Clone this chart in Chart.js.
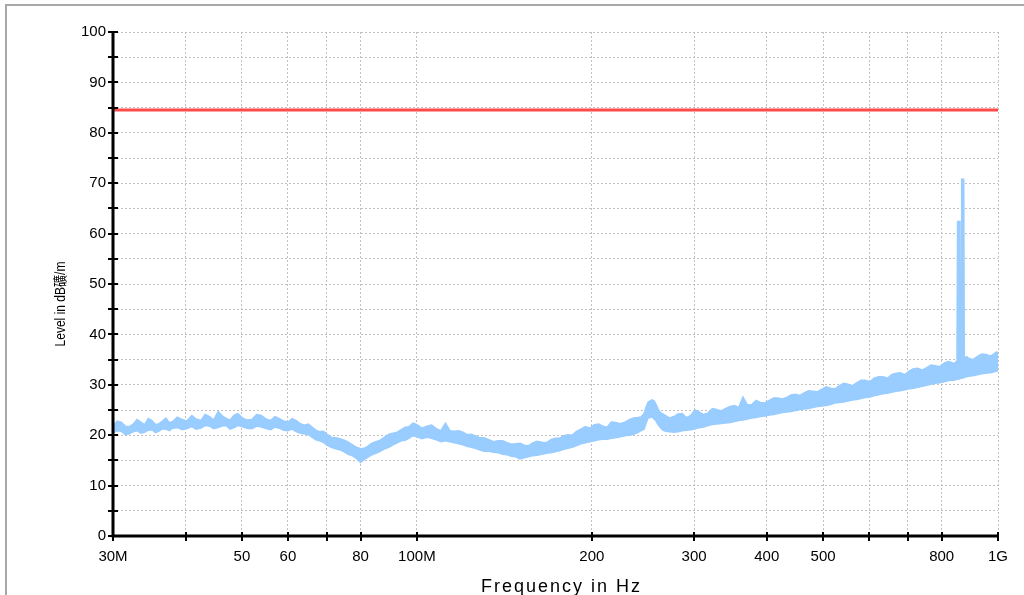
<!DOCTYPE html>
<html>
<head>
<meta charset="utf-8">
<script src="https://cdn.jsdelivr.net/npm/chart.js@4/dist/chart.umd.min.js"></script>
<style>
  html, body { margin: 0; padding: 0; background: #ffffff; }
  #wrap { position: relative; width: 1024px; height: 595px; overflow: hidden; }
  #frame { position: absolute; left: 5px; top: 4px; right: -10px; bottom: -10px;
           border-left: 2px solid #a8a8a8; border-top: 2px solid #a8a8a8; pointer-events: none; }
  canvas { position: absolute; left: 0; top: 0; }
</style>
</head>
<body>
<div id="wrap">
  <canvas id="c" width="1024" height="595"></canvas>
  <div id="frame"></div>
</div>
<script>
// ---- data (frequency in MHz, level in dBuV/m) ----
const freqMHz = [
  30, 30.5, 31, 31.5, 32, 32.5, 33, 33.5, 34, 34.5,
  35, 35.5, 36, 36.5, 37, 37.5, 38, 38.7, 39.5, 40.2,
  41, 41.7, 42.5, 43.2, 44, 44.7, 45.5, 46.2, 47, 47.7,
  48.5, 49.2, 50, 51, 52, 53, 54, 55, 56, 57,
  58, 59, 60, 61, 62, 63, 64, 65, 66, 67,
  68, 69, 70, 71.2, 72.5, 73.7, 75, 76.2, 77.5, 78.7,
  80, 81.2, 82.5, 83.7, 85, 86.5, 88, 89.5, 91, 92.5,
  94, 95.5, 97, 98.5, 100, 102, 104, 106, 108, 110,
  112, 114, 116, 118, 120, 122, 124, 126, 128, 130.5,
  133, 135.5, 138, 140.5, 143, 145.5, 148, 150.5, 153, 155.5,
  158, 161, 164, 167, 170, 173, 176, 179, 182, 185,
  188, 191.5, 195, 198.5, 202, 205.5, 209, 212.5, 216, 220,
  224, 228, 232, 236, 240, 243, 246, 248, 250, 252,
  254, 256, 258, 260, 262, 265, 268, 272.5, 277, 281.5,
  286, 291, 296, 301, 306, 311.5, 317, 322.5, 328, 334,
  340, 346, 352, 358, 364, 370.5, 377, 383.5, 390, 397,
  404, 411, 418, 425.5, 433, 440.5, 448, 456, 464, 472,
  480, 488.5, 497, 506, 515, 524, 533, 542.5, 552, 561.5,
  571, 581, 591, 601.5, 612, 623, 634, 645, 656, 667.5,
  679, 691, 703, 715.5, 728, 741, 754, 767, 780, 794,
  808, 819, 830, 840, 850, 852, 860, 862, 864, 866,
  873, 875, 882, 890, 905, 921, 937, 953, 970, 986,
  993, 1000
];
const levelLow = [
  20.4, 20.9, 20.8, 20.1, 20.3, 20.7, 20.9, 20.4, 20.6, 21.0,
  21.1, 20.5, 20.8, 21.3, 21.2, 20.9, 21.4, 21.5, 21.1, 21.3,
  21.7, 21.2, 21.4, 21.9, 21.8, 21.3, 21.5, 21.8, 21.9, 21.2,
  21.5, 21.9, 21.7, 21.4, 21.3, 21.8, 21.6, 21.3, 21.1, 21.6,
  21.4, 21.0, 20.9, 21.2, 20.7, 20.4, 20.3, 20.1, 19.6, 19.1,
  18.9, 18.6, 18.1, 17.6, 17.3, 17.1, 16.7, 16.2, 15.9, 15.4,
  14.6, 15.2, 15.7, 16.1, 16.4, 16.8, 17.3, 17.6, 18.1, 18.5,
  18.9, 19.0, 19.4, 19.9, 19.7, 19.3, 19.6, 19.4, 19.1, 18.7,
  18.9, 18.7, 18.5, 18.3, 18.1, 17.8, 17.6, 17.4, 17.1, 16.8,
  16.8, 16.6, 16.5, 16.2, 16.1, 15.8, 15.7, 15.3, 15.5, 15.7,
  15.9, 16.0, 16.2, 16.4, 16.5, 16.7, 16.9, 17.2, 17.4, 17.6,
  17.9, 18.3, 18.5, 18.7, 18.9, 19.1, 19.2, 19.2, 19.4, 19.5,
  19.7, 19.9, 20.0, 20.2, 20.5, 20.9, 21.2, 22.4, 23.4, 23.5,
  23.6, 23.2, 22.8, 22.1, 21.6, 21.0, 20.8, 20.7, 20.6, 20.7,
  20.9, 21.0, 21.1, 21.3, 21.5, 21.6, 21.9, 22.1, 22.2, 22.3,
  22.4, 22.5, 22.7, 22.9, 23.0, 23.2, 23.4, 23.5, 23.7, 23.8,
  24.0, 24.1, 24.3, 24.5, 24.6, 24.7, 24.9, 25.1, 25.2, 25.3,
  25.5, 25.7, 25.8, 25.9, 26.1, 26.4, 26.5, 26.6, 26.8, 27.0,
  27.1, 27.3, 27.5, 27.6, 27.8, 28.0, 28.2, 28.3, 28.5, 28.7,
  28.8, 29.0, 29.2, 29.3, 29.5, 29.7, 29.9, 30.1, 30.3, 30.4,
  30.6, 30.8, 30.9, 30.9, 31.1, 31.1, 31.2, 31.3, 31.3, 31.3,
  31.4, 31.5, 31.6, 31.7, 31.8, 32.0, 32.2, 32.3, 32.4, 32.6,
  32.7, 32.8
];
const levelHigh = [
  21.9, 22.8, 22.6, 21.8, 21.7, 22.2, 23.1, 22.6, 22.1, 23.3,
  22.9, 22.1, 22.3, 22.8, 23.4, 22.5, 22.7, 23.6, 23.1, 22.8,
  23.9, 23.2, 22.9, 24.1, 23.7, 23.0, 24.7, 23.9, 23.3, 23.0,
  24.0, 24.3, 23.5, 23.0, 23.1, 24.1, 23.9, 23.2, 22.9, 23.7,
  23.3, 22.8, 22.6, 23.3, 22.9, 22.3, 22.0, 22.2, 21.6, 21.0,
  20.7, 20.8, 20.2, 19.6, 19.5, 19.3, 19.0, 18.6, 18.1, 17.6,
  17.3, 17.4, 17.9, 18.4, 18.7, 19.0, 19.6, 20.2, 20.4, 20.6,
  21.1, 21.6, 21.7, 22.4, 22.1, 21.4, 21.8, 22.0, 21.3, 20.9,
  22.4, 20.9, 20.8, 20.9, 20.6, 20.1, 20.2, 19.9, 19.5, 19.5,
  19.1, 18.7, 18.9, 18.9, 18.5, 18.2, 18.3, 18.4, 18.0, 17.9,
  18.4, 18.8, 18.6, 18.5, 19.1, 19.4, 19.4, 19.9, 20.1, 20.0,
  20.7, 21.2, 21.7, 21.4, 22.1, 22.2, 21.8, 21.6, 22.6, 22.5,
  22.3, 22.6, 23.1, 23.4, 23.5, 23.6, 24.3, 25.6, 26.6, 26.8,
  27.0, 26.8, 26.1, 25.2, 24.6, 24.2, 23.9, 23.4, 23.7, 24.2,
  24.3, 23.5, 23.9, 25.0, 24.6, 24.1, 24.4, 25.3, 25.1, 24.8,
  25.3, 25.7, 25.9, 25.5, 27.6, 26.0, 26.1, 26.9, 26.5, 26.4,
  26.9, 27.4, 27.4, 27.2, 27.5, 28.0, 28.1, 27.9, 28.4, 28.8,
  28.7, 28.6, 29.1, 29.6, 29.3, 29.2, 29.8, 30.3, 30.1, 29.8,
  30.4, 30.9, 30.9, 30.6, 31.3, 31.6, 31.6, 31.3, 32.0, 32.3,
  32.4, 32.0, 32.7, 33.2, 33.3, 32.9, 33.4, 33.9, 33.8, 33.6,
  34.3, 34.6, 34.5, 34.2, 34.7, 62.4, 62.4, 34.6, 34.8, 70.8,
  70.8, 35.0, 35.6, 35.3, 35.0, 35.6, 36.1, 36.0, 35.7, 36.2,
  36.5, 36.4
];
const limitFreq = [30, 1000];
const limitLevel = [84.5, 84.5];
const xTickValues = [30, 40, 50, 60, 70, 80, 100, 200, 300, 400, 500, 600, 700, 800, 1000];
const xTickLabels = ['30M', '', '50', '60', '', '80', '100M', '200', '300', '400', '500', '', '', '800', '1G'];
const yMin = 0, yMax = 100, yStep = 5, yLabelStep = 10;
const xTitle = 'Frequency in Hz';
const yTitle = 'Level in dB礦/m';

// ---- styling ----
const traceColor = '#99ccff';
const limitColor = '#ff4a4a';
const gridColor = '#c0c0c0';
const fontFamily = '"Liberation Sans", Arial, "Noto Sans CJK SC", sans-serif';

const toPts = (xs, ys) => xs.map((x, i) => ({ x: x, y: ys[i] }));

const axesPlugin = {
  id: 'axesPlugin',
  afterDraw(chart) {
    const ctx = chart.ctx;
    const xs = chart.scales.x, ys = chart.scales.y;
    const a = chart.chartArea;
    ctx.save();
    ctx.strokeStyle = '#000';
    ctx.lineWidth = 3;
    ctx.beginPath();
    ctx.moveTo(a.left, a.top - 1);
    ctx.lineTo(a.left, a.bottom);
    ctx.lineTo(a.right + 1, a.bottom);
    ctx.stroke();
    ctx.lineWidth = 2;
    ctx.beginPath();
    for (let v = yMin; v <= yMax; v += yStep) {
      const py = Math.round(ys.getPixelForValue(v));
      ctx.moveTo(a.left - 5, py);
      ctx.lineTo(a.left + 5, py);
    }
    xTickValues.forEach(v => {
      const px = Math.round(xs.getPixelForValue(v));
      ctx.moveTo(px, a.bottom - 4);
      ctx.lineTo(px, a.bottom + 5);
    });
    ctx.stroke();
    ctx.fillStyle = '#000';
    ctx.font = '18px ' + fontFamily;
    ctx.textAlign = 'left';
    ctx.textBaseline = 'alphabetic';
    if ('letterSpacing' in ctx) ctx.letterSpacing = '2px';
    ctx.fillText(xTitle, 481, 592);
    if ('letterSpacing' in ctx) ctx.letterSpacing = '0px';
    ctx.translate(65, 304);
    ctx.rotate(-Math.PI / 2);
    ctx.scale(0.86, 1);
    ctx.textAlign = 'center';
    ctx.font = '14px ' + fontFamily;
    ctx.fillText(yTitle, 0, 0);
    ctx.restore();
  }
};

new Chart(document.getElementById('c'), {
  type: 'line',
  data: {
    datasets: [
      {
        label: 'peak',
        data: toPts(freqMHz, levelHigh),
        borderColor: traceColor,
        backgroundColor: traceColor,
        borderWidth: 1.5,
        pointRadius: 0,
        tension: 0,
        fill: '+1'
      },
      {
        label: 'floor',
        data: toPts(freqMHz, levelLow),
        borderColor: traceColor,
        backgroundColor: traceColor,
        borderWidth: 1.5,
        pointRadius: 0,
        tension: 0,
        fill: false
      },
      {
        label: 'limit',
        data: toPts(limitFreq, limitLevel),
        borderColor: limitColor,
        borderWidth: 3,
        pointRadius: 0,
        fill: false
      }
    ]
  },
  options: {
    responsive: false,
    animation: false,
    devicePixelRatio: 1,
    layout: { padding: { left: 0, right: 26, top: 32, bottom: 0 } },
    plugins: { legend: { display: false }, tooltip: { enabled: false }, title: { display: false } },
    scales: {
      x: {
        type: 'logarithmic',
        min: 30,
        max: 1000,
        afterBuildTicks(scale) { scale.ticks = xTickValues.map(v => ({ value: v })); },
        afterFit(scale) { scale.height = 59; },
        ticks: {
          autoSkip: false,
          maxRotation: 0,
          minRotation: 0,
          padding: 12,
          color: '#000',
          font: { family: fontFamily, size: 15 },
          callback(value) {
            const i = xTickValues.indexOf(value);
            return i >= 0 ? xTickLabels[i] : '';
          }
        },
        grid: { color: gridColor, lineWidth: 1, drawTicks: false },
        border: { display: false, dash: [2, 2] }
      },
      y: {
        type: 'linear',
        min: yMin,
        max: yMax,
        afterFit(scale) { scale.width = 113; },
        ticks: {
          stepSize: yStep,
          padding: 7,
          color: '#000',
          font: { family: fontFamily, size: 15 },
          callback(value) { return value % yLabelStep === 0 ? String(value) : ''; }
        },
        grid: { color: gridColor, lineWidth: 1, drawTicks: false },
        border: { display: false, dash: [2, 2] }
      }
    }
  },
  plugins: [axesPlugin]
});
</script>
</body>
</html>
